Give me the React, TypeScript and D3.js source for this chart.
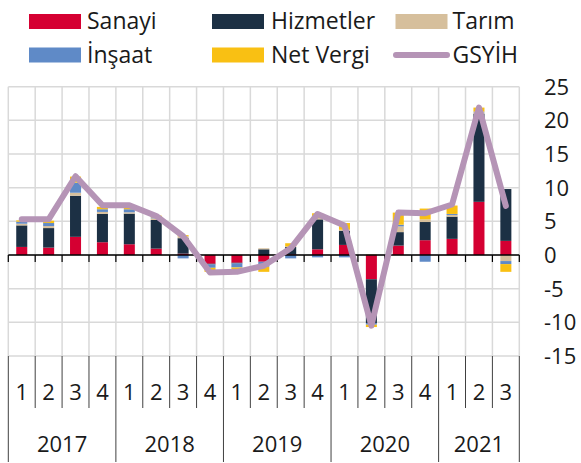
import * as d3 from "d3";

const quarters = ["1", "2", "3", "4", "1", "2", "3", "4", "1", "2", "3", "4", "1", "2", "3", "4", "1", "2", "3"];
const years = ["2017", "2018", "2019", "2020", "2021"];

const sanayi = [1.2, 1.1, 2.7, 1.9, 1.6, 0.95, 0.2, -1.3, -1.15, -1.0, 0.1, 0.85, 1.5, -3.6, 1.4, 2.2, 2.4, 7.9, 2.1];
const hizmetler = [3.2, 2.9, 6.1, 4.2, 4.55, 4.25, 2.3, -0.1, -0.1, 0.85, 1.1, 4.45, 2.1, -6.5, 2.0, 2.7, 3.3, 13.1, 7.7];
const tarim = [0.25, 0.3, 0.45, 0.3, 0.2, 0.25, 0.3, 0.05, 0.05, 0.15, 0.05, 0.2, 0.15, 0.15, 0.85, 0.4, 0.25, 0.2, -0.9];
const insaat = [0.3, 0.45, 1.5, 0.4, 0.45, 0.15, -0.5, -0.5, -0.6, -0.75, -0.5, -0.35, -0.35, -0.25, 0.25, -1.0, 0.15, 0.1, -0.45];
const netVergi = [0.2, 0.35, 0.9, 0.35, 0.3, 0.25, 0.15, -0.6, -0.3, -0.75, 0.5, 0.7, 1.0, -0.35, 1.8, 1.6, 1.25, 0.6, -1.15];
const gsyih = [5.3, 5.3, 11.7, 7.4, 7.4, 5.8, 2.8, -2.6, -2.5, -1.6, 1.0, 6.1, 4.4, -10.5, 6.3, 6.2, 7.5, 21.9, 7.3];

const yTicks = [25, 20, 15, 10, 5, 0, -5, -10, -15];

const series = [
  { key: "Sanayi", values: sanayi, color: "#d50032" },
  { key: "Hizmetler", values: hizmetler, color: "#1c3044" },
  { key: "Tarım", values: tarim, color: "#d6bf9c" },
  { key: "İnşaat", values: insaat, color: "#5f8ac7" },
  { key: "Net Vergi", values: netVergi, color: "#f9c013" },
];
const lineColor = "#b594b6";

export default function App() {
  const width = 581;
  const height = 463;
  const left = 8.3;
  const right = 519.3;
  const top = 86.7;
  const bottom = 356;
  const font = "'Open Sans', sans-serif";

  const idx = quarters.map((_, i) => i);
  const x = d3.scaleBand<number>().domain(idx).range([left, right]).padding(0);
  const y = d3.scaleLinear().domain([-15, 25]).range([bottom, top]);
  const barW = x.bandwidth() * 0.41;

  const rows = idx.map((i) => {
    const r: any = { i };
    series.forEach((s) => (r[s.key] = s.values[i]));
    return r;
  });
  const stacked = d3
    .stack<any>()
    .keys(series.map((s) => s.key))
    .offset(d3.stackOffsetDiverging)(rows);

  const line = d3
    .line<number>()
    .x((_, i) => (x(i) as number) + x.bandwidth() / 2)
    .y((d) => y(d));

  const bounds = d3.range(quarters.length + 1).map((i) => left + i * x.bandwidth());
  const yearStarts = [0, 4, 8, 12, 16, 19];

  const legend = [
    { label: "Sanayi", color: series[0].color, sx: 29, tx: 87, row: 0 },
    { label: "Hizmetler", color: series[1].color, sx: 212, tx: 271, row: 0 },
    { label: "Tarım", color: series[2].color, sx: 395.5, tx: 452.5, row: 0 },
    { label: "İnşaat", color: series[3].color, sx: 29, tx: 87, row: 1 },
    { label: "Net Vergi", color: series[4].color, sx: 212, tx: 271, row: 1 },
  ];

  return (
    <svg
      width={width}
      height={height}
      style={{ position: "absolute", left: 0, top: 0, background: "#fff" }}
      fontFamily={font}
    >
      {/* legend */}
      {legend.map((l) => (
        <g key={l.label}>
          <rect x={l.sx} y={14 + l.row * 33.5} width={52} height={15} fill={l.color} />
          <text x={l.tx} y={29 + l.row * 33.5} fontSize={23} fill="#1a1a1a">
            {l.label}
          </text>
        </g>
      ))}
      <line x1={396} x2={447} y1={55} y2={55} stroke={lineColor} strokeWidth={6} strokeLinecap="round" />
      <text x={452.5} y={62.5} fontSize={23} fill="#1a1a1a">
        GSYİH
      </text>

      {/* grid */}
      {yTicks.map((t) => (
        <line key={"h" + t} x1={left} x2={right} y1={y(t)} y2={y(t)} stroke="#d9d9d9" strokeWidth={1.5} />
      ))}
      {bounds.map((b, i) => (
        <line key={"v" + i} x1={b} x2={b} y1={top} y2={bottom} stroke="#d9d9d9" strokeWidth={1.5} />
      ))}

      {/* bars */}
      {stacked.map((layer, si) => (
        <g key={layer.key} fill={series[si].color}>
          {layer.map((d, i) => {
            const y0 = y(d[0]);
            const y1 = y(d[1]);
            return (
              <rect
                key={i}
                x={(x(i) as number) + (x.bandwidth() - barW) / 2}
                y={Math.min(y0, y1)}
                width={barW}
                height={Math.abs(y0 - y1)}
              />
            );
          })}
        </g>
      ))}

      {/* zero axis */}
      <line x1={left} x2={right} y1={y(0)} y2={y(0)} stroke="#000" strokeWidth={1.5} />
      {bounds.map((b, i) => (
        <line key={"t" + i} x1={b} x2={b} y1={y(0)} y2={y(0) + 7} stroke="#000" strokeWidth={1.2} />
      ))}

      {/* GDP line */}
      <path d={line(gsyih) || ""} fill="none" stroke={lineColor} strokeWidth={6} strokeLinejoin="round" strokeLinecap="round" />

      {/* y labels */}
      {yTicks.map((t) => (
        <text key={"yl" + t} x={544} y={y(t) + 8} fontSize={22} fill="#1a1a1a">
          {t}
        </text>
      ))}

      {/* category axis */}
      {bounds.map((b, i) => (
        <line
          key={"s" + i}
          x1={b}
          x2={b}
          y1={bottom}
          y2={yearStarts.includes(i) ? 462 : 408}
          stroke="#404040"
          strokeWidth={1}
        />
      ))}
      {quarters.map((q, i) => (
        <text
          key={"q" + i}
          x={(x(i) as number) + x.bandwidth() / 2}
          y={399.5}
          fontSize={22}
          textAnchor="middle"
          fill="#1a1a1a"
        >
          {q}
        </text>
      ))}
      {years.map((yr, k) => (
        <text
          key={yr}
          x={(bounds[yearStarts[k]] + bounds[yearStarts[k + 1]]) / 2}
          y={452}
          fontSize={22}
          textAnchor="middle"
          fill="#1a1a1a"
        >
          {yr}
        </text>
      ))}
    </svg>
  );
}
